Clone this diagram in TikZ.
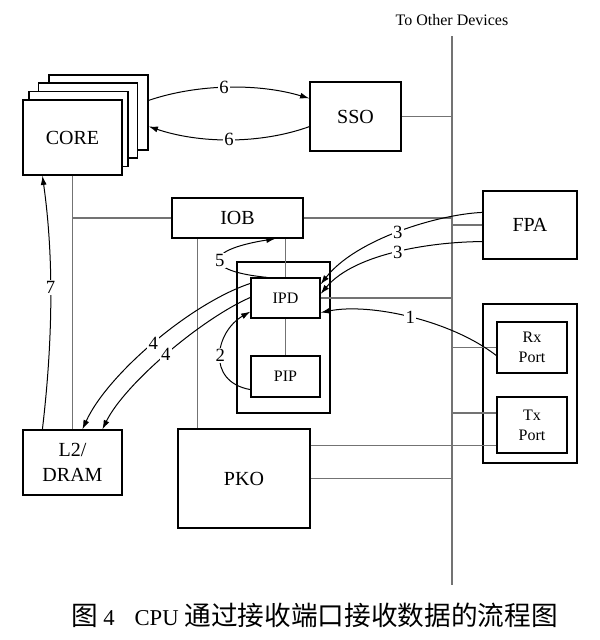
\documentclass[tikz,border=0pt]{standalone}
\usepackage{fontspec}
\setmainfont{Liberation Serif}
\newfontfamily\cjk{Noto Sans CJK SC}
\usetikzlibrary{arrows.meta,calc}
\tikzset{every picture/.style={line width=0.75pt}}

\begin{document}
\begin{tikzpicture}[x=0.75pt,y=0.75pt,yscale=-1,xscale=1,
    unit/.style={draw, fill=white, line width=0.9pt, align=center, inner sep=0pt, font=\fontsize{15}{19}\selectfont},
    small/.style={unit, font=\fontsize{12}{15}\selectfont},
    frame/.style={draw, line width=0.9pt, inner sep=0pt},
    link/.style={draw=black!55, line width=0.9pt},
    flow/.style={draw=black, line width=0.75pt, -{Latex[length=7pt,width=4.5pt]}},
    num/.style={fill=white, inner sep=1pt, font=\fontsize{14}{14}\selectfont}]
    \useasboundingbox (0,0) rectangle (600,640);

    %Shape: Rectangle [frames]
    \node[frame, minimum width=70.5pt, minimum height=119.25pt] (portbox) at (530,383.5) {};
    \node[frame, minimum width=69.75pt, minimum height=113.25pt] (ipdbox) at (283.5,337.5) {};

    %Shape: Rectangle [core stack]
    \node[unit, minimum width=74.25pt, minimum height=56.25pt] (core3) at (98.5,112.5) {};
    \node[unit, minimum width=74.25pt, minimum height=56.25pt] (core2) at (88,120.5) {};
    \node[unit, minimum width=74.25pt, minimum height=56.25pt] (core1) at (78.5,129) {};
    \node[unit, minimum width=74.25pt, minimum height=56.25pt] (core) at (72.5,137.5) {CORE};

    %Shape: Rectangle [units]
    \node[unit, minimum width=68.25pt, minimum height=51.75pt] (sso) at (355.5,116.5) {SSO};
    \node[unit, minimum width=98.25pt, minimum height=30pt] (iob) at (237.5,218) {IOB};
    \node[unit, minimum width=70.5pt, minimum height=51pt] (fpa) at (530,225) {FPA};
    \node[small, minimum width=51.75pt, minimum height=30pt] (ipd) at (285.5,298) {IPD};
    \node[small, minimum width=51.75pt, minimum height=30.75pt] (pip) at (285.5,376.5) {PIP};
    \node[small, minimum width=52.5pt, minimum height=38.25pt] (rxport) at (532,347.5) {Rx\\Port};
    \node[small, minimum width=52.5pt, minimum height=42pt] (txport) at (532,425) {Tx\\Port};
    \node[unit, minimum width=74.25pt, minimum height=48.75pt] (l2) at (72.5,462.5) {L2/\\DRAM};
    \node[unit, minimum width=99pt, minimum height=74.25pt] (pko) at (244,478.5) {PKO};

    %Straight Lines [bus]
    \coordinate (bustop) at (452,36);
    \coordinate (busbot) at (452,585);
    \draw[link] (bustop) -- (busbot);

    %Straight Lines [links]
    \draw[link] (core.south) -- (l2.north);
    \draw[link] (iob.west) -- (iob.west -| core.south);
    \draw[link] (iob.east) -- (iob.east -| bustop);
    \draw[link] (sso.east) -- (sso.east -| bustop);
    \draw[link] (ipd.north |- iob.south) -- (ipd.north);
    \draw[link] (ipd.south) -- (pip.north);
    \draw[link] (ipd.east) -- (ipd.east -| bustop);
    \coordinate (pkotap) at ($(pko.north west)+(20,0)$);
    \draw[link] (pkotap) -- (pkotap |- iob.south);
    \coordinate (pkotx) at ($(pko.north east)+(0,17)$);
    \draw[link] (pkotx) -- (pkotx -| txport.west);
    \draw[link] (pko.east) -- (pko.east -| bustop);
    \draw[link] (fpa.west) -- (fpa.west -| bustop);
    \draw[link] (rxport.west) -- (rxport.west -| bustop);
    \coordinate (txtap) at ($(txport.west)+(0,-12)$);
    \draw[link] (txtap) -- (txtap -| bustop);

    %Curve Lines [flow steps]
    \draw[flow] ($(core3.north east)+(0,26)$) .. controls +(50,-17) and +(-50,-15) .. ($(sso.north west)+(0,17)$) node[num, pos=0.47] {6};
    \draw[flow] ($(sso.south west)+(0,-25)$) .. controls +(-50,18) and +(50,17) .. ($(core3.north east)+(0,52)$) node[num, pos=0.5] {6};
    \draw[flow] ($(l2.north west)+(20,0)$) .. controls +(10,-85) and +(12,85) .. ($(core.south west)+(20,0)$) node[num, pos=0.56] {7};
    \draw[flow] ($(ipd.north west)+(0,6)$) .. controls +(-60,20) and +(25,-55) .. ($(l2.north west)+(60,0)$) node[num, pos=0.5] {4};
    \draw[flow] ($(ipd.north west)+(0,20)$) .. controls +(-50,22) and +(22,-45) .. ($(l2.north west)+(80,0)$) node[num, pos=0.5] {4};
    \draw[flow] ($(pip.south west)+(0,-8)$) .. controls +(-45,-8) and +(-35,20) .. ($(ipd.south west)+(0,-7)$) node[num, pos=0.5] {2};
    \draw[flow] ($(ipd.north west)+(17,0)$) .. controls +(-63,-6) and +(-75,12) .. ($(iob.south east)+(-28,0)$) node[num, pos=0.5] {5};
    \draw[flow] ($(fpa.north west)+(0,22)$) .. controls +(-45,2) and +(35,-45) .. ($(ipd.north east)+(0,7)$) node[num, pos=0.5] {3};
    \draw[flow] ($(fpa.south west)+(0,-18)$) .. controls +(-45,0) and +(35,-42) .. ($(ipd.east)+(0,-4)$) node[num, pos=0.5] {3};
    \draw[flow] ($(rxport.south west)+(0,-18)$) .. controls +(-45,-35) and +(50,-10) .. ($(ipd.south east)+(0,-6)$) node[num, pos=0.5] {1};

    % Text Node
    \node[font=\fontsize{12}{12}\selectfont] (other) at (452,20) {To Other Devices};
    % Text Node
    \node (caption) at (314.5,615) {{\cjk\fontsize{20}{20}\selectfont 图}\hspace{4pt}{\fontsize{17}{17}\selectfont 4\hspace{15pt}CPU }{\cjk\fontsize{20}{20}\selectfont 通过接收端口接收数据的流程图}};
\end{tikzpicture}
\end{document}
